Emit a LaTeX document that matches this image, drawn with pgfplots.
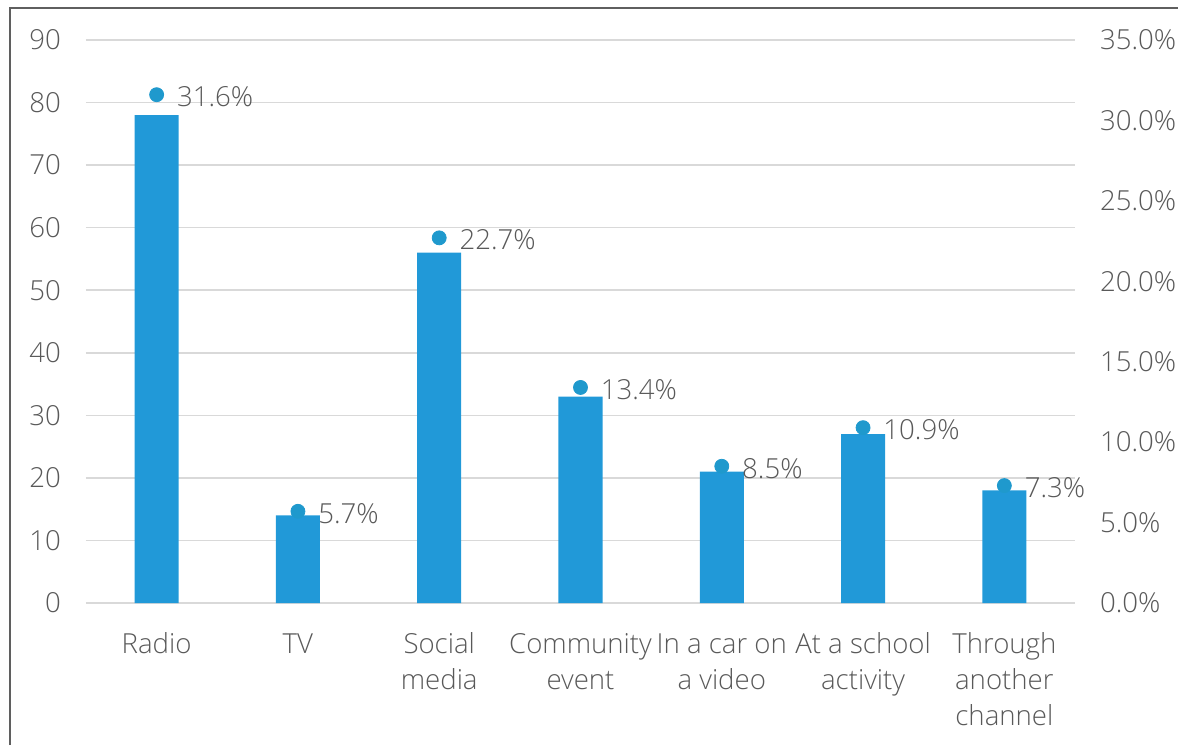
\documentclass[border=0pt]{standalone}
\usepackage{pgfplots}
\pgfplotsset{compat=1.18}
\usepackage{fontspec}
\setmainfont{Open Sans}[UprightFont={* Light}]
\definecolor{barblue}{RGB}{33,153,216}
\definecolor{dotblue}{RGB}{31,153,205}
\definecolor{txtgray}{RGB}{89,89,89}
\definecolor{gridgray}{RGB}{217,217,217}
\definecolor{framegray}{RGB}{95,95,95}
\begin{document}
\begin{tikzpicture}[x=1pt,y=1pt]
\pgfplotsset{
  every axis/.append style={
    scale only axis, width=494.5pt, height=281.5pt,
    xmin=-0.5, xmax=6.5,
    /pgf/number format/assume math mode=true,
    axis line style={draw=none}, tick style={draw=none},
    tick label style={font=\fontsize{13.8}{18}\selectfont, text=txtgray},
  }
}
\begin{axis}[
  ymin=0, ymax=90, ytick={0,10,...,90},
  xtick={0,...,6},
  xticklabels={\strut Radio,\strut TV,\strut Social\\\strut media,\strut Community\\\strut event,\strut In a car on\\\strut a video,\strut At a school\\\strut activity,\strut Through\\\strut another\\\strut channel},
  xticklabel style={align=center, yshift=-9pt},
  yticklabel style={xshift=-9pt},
  ymajorgrids, grid style={gridgray, line width=0.8pt},
]
\addplot[ybar, bar width=22pt, fill=barblue, draw=none] coordinates {
  (0,78) (1,14) (2,56) (3,33) (4,21) (5,27) (6,18)
};
\end{axis}
\begin{axis}[
  ymin=0, ymax=35, ytick={0,5,...,35},
  axis y line*=right, axis x line=none,
  yticklabel={\pgfmathprintnumber[fixed,fixed zerofill,precision=1]{\tick}\%},
  yticklabel style={anchor=west, xshift=9pt},
]
\addplot[only marks, mark=*, mark size=3.5pt, color=dotblue,
  nodes near coords={\pgfmathprintnumber[fixed,fixed zerofill,precision=1]{\pgfplotspointmeta}\%},
  every node near coord/.append style={anchor=west, xshift=9pt, yshift=-1pt, text=txtgray, font=\fontsize{13.8}{18}\selectfont, inner sep=1pt},
] coordinates {
  (0,31.6) (1,5.7) (2,22.7) (3,13.4) (4,8.5) (5,10.9) (6,7.3)
};
\end{axis}
\draw[framegray, line width=1pt] (-38,-71) -- (-38,297.5) -- (546,297.5);
\pgfresetboundingbox
\path (-43,-71) rectangle (546,301.5);
\end{tikzpicture}
\end{document}
